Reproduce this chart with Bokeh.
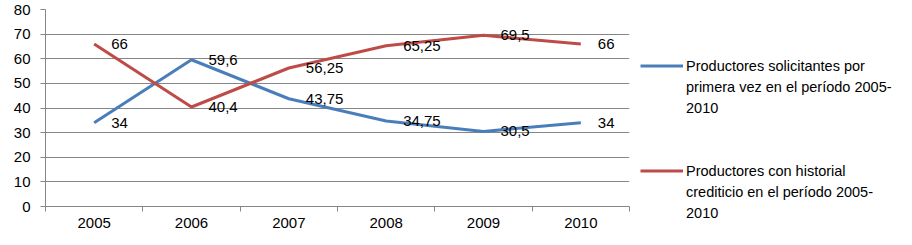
from bokeh.plotting import figure
from bokeh.models import Range1d, FixedTicker, Legend, LegendItem, ColumnDataSource
from bokeh.core.properties import value
from bokeh.embed import file_html
from bokeh.resources import INLINE

years = [2005, 2006, 2007, 2008, 2009, 2010]
primera_vez = [34, 59.6, 43.75, 34.75, 30.5, 34]
historial = [66, 40.4, 56.25, 65.25, 69.5, 66]
y_ticks = [0, 10, 20, 30, 40, 50, 60, 70, 80]
name_primera = ["Productores solicitantes por", "primera vez en el período 2005-", "2010"]
name_historial = ["Productores con historial", "crediticio en el período 2005-", "2010"]

FONT = "Liberation Sans"
BLUE = "#4A7EBB"
RED = "#BE4B48"
GRID = "#868686"

LEFT, RIGHT, TOP, BOTTOM = 45, 267, 9, 23
FRAME_W, FRAME_H = 584, 197

def fmt(v):
    return f"{v:g}".replace(".", ",")

p = figure(frame_width=FRAME_W, frame_height=FRAME_H, output_backend="svg", toolbar_location=None,
           x_range=Range1d(years[0] - 0.5, years[-1] + 0.5), y_range=Range1d(0, 80),
           min_border_left=LEFT, min_border_right=RIGHT, min_border_top=TOP, min_border_bottom=BOTTOM)
p.outline_line_color = None
p.background_fill_color = "white"
p.border_fill_color = "white"

p.xgrid.grid_line_color = None
p.ygrid.grid_line_color = GRID
p.ygrid.ticker = FixedTicker(ticks=y_ticks)

p.yaxis.ticker = FixedTicker(ticks=y_ticks)
p.yaxis.axis_line_color = GRID
p.yaxis.major_tick_line_color = GRID
p.yaxis.major_tick_out = 5
p.yaxis.major_tick_in = 0
p.yaxis.minor_tick_line_color = None
p.yaxis.major_label_standoff = 10
p.yaxis.major_label_text_font = FONT
p.yaxis.major_label_text_font_size = "15px"
p.yaxis.major_label_text_color = "#000000"

p.xaxis.ticker = FixedTicker(ticks=years, minor_ticks=[y - 0.5 for y in years] + [years[-1] + 0.5])
p.xaxis.axis_line_color = GRID
p.xaxis.major_tick_line_color = None
p.xaxis.major_tick_out = 0
p.xaxis.major_tick_in = 0
p.xaxis.minor_tick_line_color = GRID
p.xaxis.minor_tick_out = 5
p.xaxis.minor_tick_in = 0
p.xaxis.major_label_standoff = 6
p.xaxis.major_label_text_font = FONT
p.xaxis.major_label_text_font_size = "15px"
p.xaxis.major_label_text_color = "#000000"

src = ColumnDataSource(dict(
    x=years, a=primera_vez, b=historial,
    la=[fmt(v) for v in primera_vez], lb=[fmt(v) for v in historial]))

r1 = p.line("x", "a", source=src, line_color=BLUE, line_width=3, line_join="round")
r2 = p.line("x", "b", source=src, line_color=RED, line_width=3, line_join="round")
blank = p.line(x=[], y=[], line_alpha=0)

for col, lab in (("a", "la"), ("b", "lb")):
    p.text("x", col, text=lab, source=src, x_offset=17, text_align="left",
           text_baseline="middle", text_font=value(FONT), text_font_size="15px",
           text_color="#000000")

items = []
for r, names in ((r1, name_primera), (r2, name_historial)):
    items.append(LegendItem(label=names[0], renderers=[r]))
    for line in names[1:]:
        items.append(LegendItem(label=line, renderers=[blank]))
    if r is r1:
        items.append(LegendItem(label=" ", renderers=[blank]))
        items.append(LegendItem(label=" ", renderers=[blank]))

ROW = 21
legend = Legend(items=items, location=(11, -17), orientation="vertical",
                border_line_color=None, background_fill_alpha=0,
                label_text_font=FONT, label_text_font_size="14.5px",
                label_text_color="#000000",
                label_height=ROW, glyph_width=43, glyph_height=ROW,
                label_standoff=3, spacing=0, padding=0, margin=0,
                inactive_fill_alpha=0)
p.add_layout(legend, "right")

open("out.html", "w").write(file_html(p, INLINE))
